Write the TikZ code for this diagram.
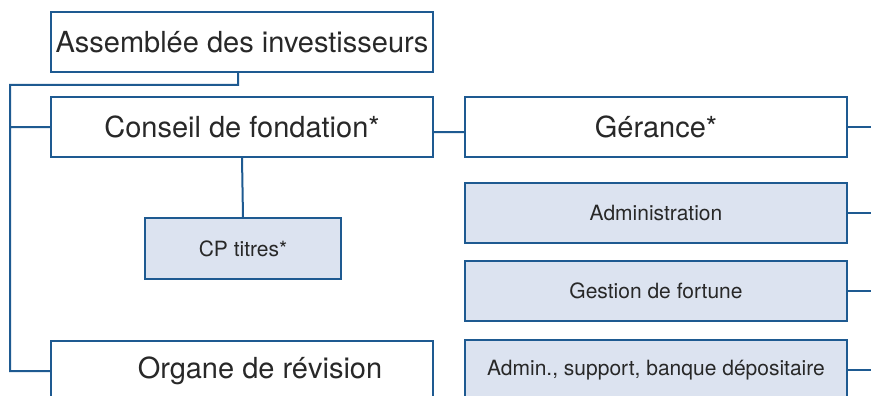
\documentclass[tikz,border=0pt]{standalone}
\usepackage{fontspec}
\setmainfont{TeX Gyre Heros}
\definecolor{orgblue}{RGB}{30,90,145}
\definecolor{orgfill}{RGB}{220,227,240}
\definecolor{orgtext}{RGB}{40,40,40}
\tikzset{
  bigbox/.style={draw=orgblue,line width=2pt,minimum width=382pt,minimum height=60pt,
    inner sep=0pt,text=orgtext,font=\fontsize{29}{30}\selectfont},
  subbox/.style={bigbox,fill=orgfill,font=\fontsize{21}{22}\selectfont},
  link/.style={draw=orgblue,line width=2pt}
}
\begin{document}
\begin{tikzpicture}[x=1pt,y=-1pt]
  \useasboundingbox (0,0) rectangle (871,396);
  \clip (0,0) rectangle (871,396);
  % left column
  \node[bigbox] (assem)   at (242,42)  {Assemblée des investisseurs};
  \node[bigbox] (conseil) at (242,127) {Conseil de fondation*};
  \node[subbox,minimum width=196pt,minimum height=61pt] (cp) at (243,248.5) {CP titres*};
  \node[bigbox] (organe)  at (242,371) {\hspace*{36pt}Organe de révision};
  % right column
  \node[bigbox] (gerance) at (656,127) {Gérance*};
  \node[subbox] (admin)   at (656,213) {Administration};
  \node[subbox] (gestion) at (656,290.5) {Gestion de fortune};
  \node[subbox] (support) at (656,370) {Admin., support, banque dépositaire};
  \coordinate (rail) at (10,85);
  \path[link]
    ([xshift=-4pt]assem.south) |- (rail) |- (organe.west)
    (rail) |- (conseil.west)
    (conseil.south) -- (cp.north)
    ([yshift=-5pt]conseil.east) -- ([yshift=-5pt]gerance.west);
  \foreach \n in {gerance,admin,gestion,support}
    \draw[link] (\n.east) -- ++(30,0);
\end{tikzpicture}
\end{document}
